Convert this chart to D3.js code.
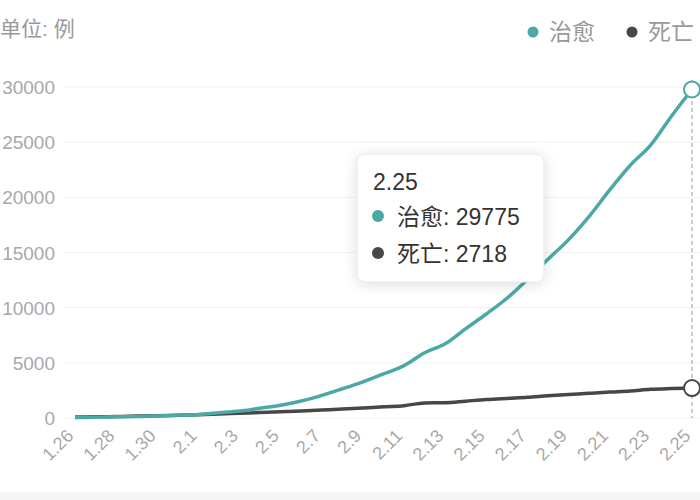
<!DOCTYPE html>
<html>
<head>
<meta charset="utf-8">
<script src="https://cdn.jsdelivr.net/npm/d3@7"></script>
<style>
  body { margin: 0; background: #fff; }
  svg { display: block; font-family: "Liberation Sans", "Noto Sans CJK SC", sans-serif; }
</style>
</head>
<body>
<svg id="chart" width="700" height="500"></svg>
<script>
// cumulative cases, 1.26 - 2.25
var dates = ["1.26","1.27","1.28","1.29","1.30","1.31","2.1","2.2","2.3","2.4","2.5","2.6","2.7","2.8","2.9","2.10",
             "2.11","2.12","2.13","2.14","2.15","2.16","2.17","2.18","2.19","2.20","2.21","2.22","2.23","2.24","2.25"];
var cured = [51, 60, 103, 126, 171, 243, 328, 475, 632, 892, 1153, 1540, 2050, 2651, 3283, 3998,
             4742, 5915, 6728, 8101, 9425, 10853, 12561, 14387, 16168, 18277, 20673, 22907, 24757, 27353, 29775];
var dead  = [80, 106, 132, 170, 213, 259, 304, 362, 426, 491, 564, 637, 723, 812, 910, 1018,
             1115, 1369, 1383, 1526, 1669, 1775, 1873, 2009, 2121, 2239, 2348, 2445, 2595, 2666, 2718];
var yTicks = [0, 5000, 10000, 15000, 20000, 25000, 30000];
var seriesNames = ["治愈", "死亡"];
var colors = ["#4aa9a5", "#474747"];

var svg = d3.select("#chart");

var x = d3.scalePoint().domain(dates).range([75, 692]),
    y = d3.scaleLinear().domain([0, 30000]).range([418, 87]);

// bottom band
svg.append("rect").attr("x", 0).attr("y", 492).attr("width", 700).attr("height", 8).attr("fill", "#f5f5f5");

// grid
svg.append("g")
    .selectAll("line")
    .data(yTicks)
    .enter().append("line")
      .attr("x1", 63).attr("x2", 700)
      .attr("y1", d => y(d)).attr("y2", d => y(d))
      .attr("stroke", "#f1f1f1")
      .attr("stroke-width", 1);

// y axis labels
var yAxis = svg.append("g")
    .attr("transform", "translate(55,0)")
    .call(d3.axisLeft(y).tickValues(yTicks).tickSize(0).tickPadding(0).tickFormat(d3.format("d")));
yAxis.select(".domain").remove();
yAxis.selectAll("text").attr("fill", "#a8a8a8").style("font-size", "19px").attr("dy", "0.35em");

// x axis labels, every other day
var xAxis = svg.append("g")
    .attr("transform", "translate(0,418)")
    .call(d3.axisBottom(x).tickValues(dates.filter((d, i) => i % 2 == 0)).tickSize(0).tickPadding(0));
xAxis.select(".domain").remove();
xAxis.selectAll("text")
    .attr("fill", "#a8a8a8")
    .style("font-size", "18px")
    .attr("text-anchor", "end")
    .attr("dy", 0)
    .attr("y", 0)
    .attr("transform", "translate(-1,19) rotate(-45)");

// title
svg.append("text").attr("x", 0).attr("y", 36)
    .attr("fill", "#999").style("font-size", "21px").text("单位: 例");

// legend
var legend = svg.append("g").selectAll("g")
    .data(seriesNames)
    .enter().append("g")
      .attr("transform", (d, i) => `translate(${533 + i * 99},32)`);
legend.append("circle").attr("r", 5.5).attr("fill", (d, i) => colors[i]);
legend.append("text").attr("x", 16).attr("y", 8)
    .attr("fill", "#999").style("font-size", "23px").text(d => d);

// hover guide
var last = dates[dates.length - 1];
svg.append("line")
    .attr("x1", x(last)).attr("x2", x(last))
    .attr("y1", 80).attr("y2", y(0))
    .attr("stroke", "#999").attr("stroke-dasharray", "4,3").attr("stroke-width", 1);

// lines
var line = d3.line()
    .x((d, i) => x(dates[i]))
    .y(d => y(d))
    .curve(d3.curveMonotoneX);

[dead, cured].forEach(function (vals) {
    var c = vals === cured ? colors[0] : colors[1];
    svg.append("path")
        .datum(vals)
        .attr("fill", "none")
        .attr("stroke", c)
        .attr("stroke-width", 3.5)
        .attr("stroke-linejoin", "round")
        .attr("d", line);
    svg.append("circle")
        .attr("cx", x(last)).attr("cy", y(vals[vals.length - 1]))
        .attr("r", 8)
        .attr("fill", "#fff")
        .attr("stroke", c)
        .attr("stroke-width", 2);
});

// tooltip
var defs = svg.append("defs");
var f = defs.append("filter").attr("id", "shadow").attr("x", "-30%").attr("y", "-30%").attr("width", "160%").attr("height", "160%");
f.append("feDropShadow").attr("dx", 0).attr("dy", 2).attr("stdDeviation", 7)
    .attr("flood-color", "#000").attr("flood-opacity", 0.13);

var tip = svg.append("g").attr("transform", "translate(357,154)");
tip.append("rect")
    .attr("width", 187).attr("height", 128).attr("rx", 8)
    .attr("fill", "#fff").attr("stroke", "#e6e6e6").attr("filter", "url(#shadow)");
tip.append("text").attr("x", 16).attr("y", 36)
    .attr("fill", "#333").style("font-size", "23px").text(last);
[cured, dead].forEach(function (vals, i) {
    var row = tip.append("g").attr("transform", `translate(0,${62 + i * 37})`);
    row.append("circle").attr("cx", 21).attr("cy", 0).attr("r", 6).attr("fill", colors[i]);
    row.append("text").attr("x", 40).attr("y", 9)
        .attr("fill", "#333").style("font-size", "23px")
        .text(seriesNames[i] + ": " + vals[vals.length - 1]);
});
</script>
</body>
</html>
